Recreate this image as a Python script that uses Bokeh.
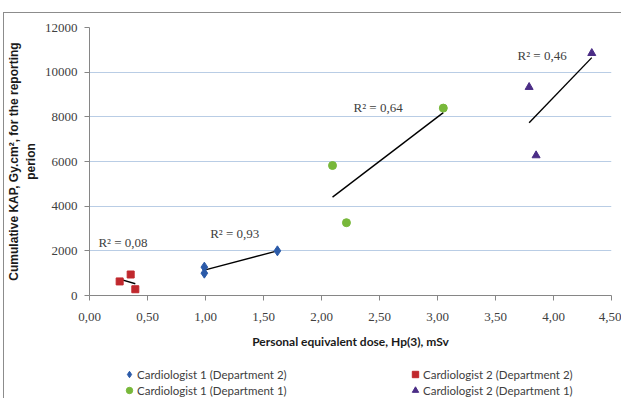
import numpy as np
from bokeh.plotting import figure
from bokeh.layouts import column
from bokeh.models import Legend, LegendItem, FixedTicker, Label, InlineStyleSheet
from bokeh.embed import file_html
from bokeh.resources import INLINE

# ---- data ----
x_ticks = [0.0, 0.5, 1.0, 1.5, 2.0, 2.5, 3.0, 3.5, 4.0, 4.5]
x_tick_labels = ["0,00", "0,50", "1,00", "1,50", "2,00", "2,50", "3,00", "3,50", "4,00", "4,50"]
y_ticks = [0, 2000, 4000, 6000, 8000, 10000, 12000]
y_tick_labels = ["0", "2000", "4000", "6000", "8000", "10000", "12000"]

c1d2_x = [0.99, 0.99, 1.62]
c1d2_y = [1270, 1000, 2000]
c2d2_x = [0.26, 0.355, 0.395]
c2d2_y = [630, 940, 280]
c1d1_x = [2.095, 2.215, 3.05]
c1d1_y = [5820, 3260, 8390]
c2d1_x = [3.79, 3.85, 4.33]
c2d1_y = [9330, 6270, 10850]

series_names = ["Cardiologist 1 (Department 2)", "Cardiologist 2 (Department 2)",
                "Cardiologist 1 (Department 1)", "Cardiologist 2 (Department 1)"]

r2_labels = ["R² = 0,93", "R² = 0,08", "R² = 0,64", "R² = 0,46"]
r2_x = [1.04, 0.077, 2.276, 3.69]
r2_y = [2775, 2387, 8430, 10750]

colors = ["#2b5aa8", "#c0282d", "#78b83a", "#4b2d86"]
markers = ["diamond", "square", "circle", "triangle"]
sizes = [10, 7, 8, 8]

series = [(c1d2_x, c1d2_y), (c2d2_x, c2d2_y), (c1d1_x, c1d1_y), (c2d1_x, c2d1_y)]

# ---- main figure ----
p = figure(width=617, height=344, x_range=(0, 4.5), y_range=(0, 12000),
           output_backend="svg", toolbar_location=None,
           min_border_left=79, min_border_top=14, min_border_right=10, min_border_bottom=62)
p.outline_line_color = None
p.background_fill_color = "white"
p.border_fill_color = "white"

p.xgrid.visible = False
p.ygrid.grid_line_color = "#b9cde5"
p.ygrid.grid_line_width = 1

for ax in (p.xaxis[0], p.yaxis[0]):
    ax.axis_line_color = "#868686"
    ax.major_tick_line_color = "#868686"
    ax.major_tick_out = 5
    ax.major_tick_in = 0
    ax.minor_tick_line_color = None
    ax.major_label_text_font = "Liberation Serif"
    ax.major_label_text_font_size = "13px"
    ax.major_label_text_color = "#404040"
    ax.axis_label_text_font_style = "bold"
    ax.axis_label_text_color = "#1a1a1a"

p.xaxis.axis_label_text_font = "Lato"
p.xaxis.axis_label_text_font_size = "12px"
p.yaxis.axis_label_text_font = "Liberation Sans"
p.yaxis.axis_label_text_font_size = "12px"

p.xaxis.ticker = FixedTicker(ticks=x_ticks)
p.xaxis.major_label_overrides = dict(zip(x_ticks, x_tick_labels))
p.yaxis.ticker = FixedTicker(ticks=y_ticks)
p.yaxis.major_label_overrides = dict(zip(y_ticks, y_tick_labels))
p.xaxis.axis_label = "Personal equivalent dose, Hp(3), mSv"
p.yaxis.axis_label = "Cumulative KAP, Gy.cm², for the reporting\nperion"
p.xaxis.major_label_standoff = 12
p.xaxis.axis_label_standoff = 10
p.yaxis.major_label_standoff = 7
p.yaxis.axis_label_standoff = 4

# trendlines (least squares fit from data)
for xs, ys in series:
    k, b = np.polyfit(xs, ys, 1)
    x0, x1 = min(xs), max(xs)
    p.line([x0, x1], [k * x0 + b, k * x1 + b], line_color="black", line_width=1.4)

for (xs, ys), m, c, s in zip(series, markers, colors, sizes):
    p.scatter(xs, ys, marker=m, size=s, color=c)

for t, x, y in zip(r2_labels, r2_x, r2_y):
    p.add_layout(Label(x=x, y=y, text=t, text_baseline="middle", text_font="Liberation Serif",
                       text_font_size="13px", text_color="#404040"))

# ---- legend strip (its ranges keep the data out of view; only legend glyphs show) ----
q = figure(width=617, height=41, x_range=(0, 4.5), y_range=(-2, -1),
           output_backend="svg", toolbar_location=None,
           x_axis_type=None, y_axis_type=None,
           min_border_left=79, min_border_right=10, min_border_top=0, min_border_bottom=0)
q.title.visible = False
q.outline_line_color = None
q.background_fill_color = "white"
q.border_fill_color = "white"
lr = [q.scatter(xs, ys, marker=m, size=s, color=c)
      for (xs, ys), m, c, s in zip(series, markers, colors, sizes)]

common = dict(label_text_font="Lato", label_text_font_size="11.5px", label_text_color="#404040",
              glyph_width=16, glyph_height=16, label_standoff=0, label_height=13,
              spacing=0, padding=0, margin=0,
              background_fill_alpha=0, border_line_color=None)
leg1 = Legend(items=[LegendItem(label=series_names[0], renderers=[lr[0]]),
                     LegendItem(label=series_names[2], renderers=[lr[2]])],
              location=(32, 0), **common)
leg2 = Legend(items=[LegendItem(label=series_names[1], renderers=[lr[1]]),
                     LegendItem(label=series_names[3], renderers=[lr[3]])],
              location=(318, 0), **common)
q.add_layout(leg1, "center")
q.add_layout(leg2, "center")

root = column(p, q, spacing=0)
root.stylesheets = [InlineStyleSheet(css=":host { margin-left: 3px; margin-top: 12px; margin-bottom: -14px; "
                                         "border-left: 1px solid #8c8c8c; border-top: 1px solid #8c8c8c; }")]

open("out.html", "w").write(file_html(root, INLINE))
